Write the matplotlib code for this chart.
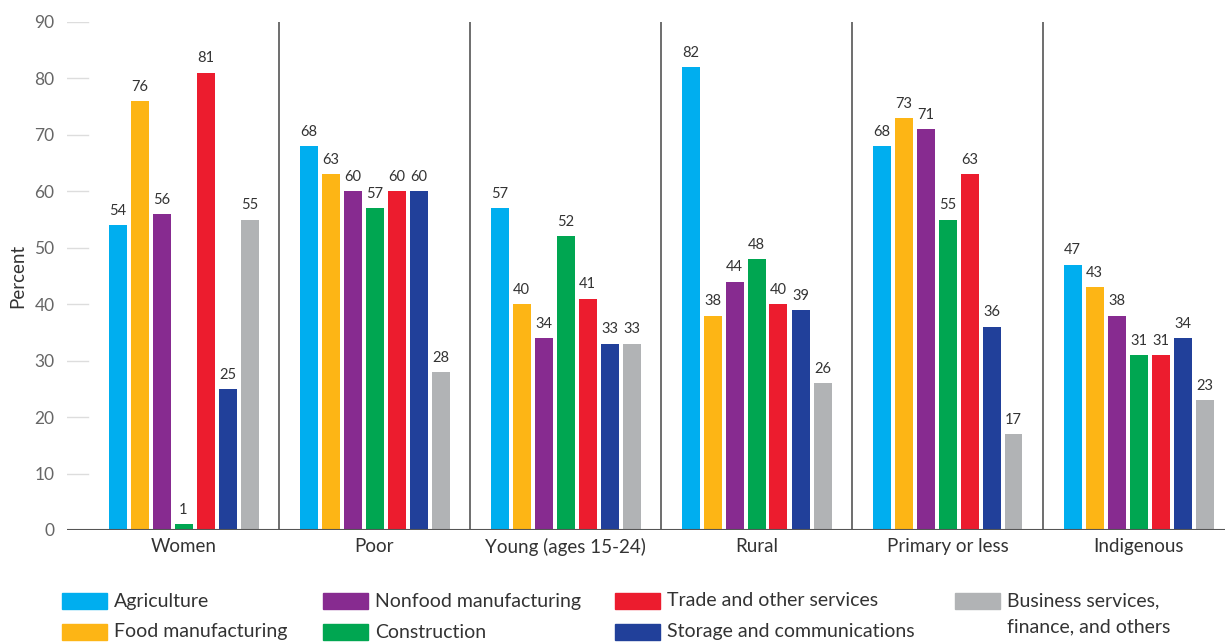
import numpy as np
import matplotlib.pyplot as plt
from matplotlib.patches import Rectangle

plt.rcParams['font.family'] = ['Lato', 'DejaVu Sans']

groups = ["Women", "Poor", "Young (ages 15-24)", "Rural", "Primary or less", "Indigenous"]
series = ["Agriculture", "Food manufacturing", "Nonfood manufacturing", "Construction",
          "Trade and other services", "Storage and communications",
          "Business services,\nfinance, and others"]
agriculture = [54, 68, 57, 82, 68, 47]
food_manuf = [76, 63, 40, 38, 73, 43]
nonfood_manuf = [56, 60, 34, 44, 71, 38]
construction = [1, 57, 52, 48, 55, 31]
trade = [81, 60, 41, 40, 63, 31]
storage = [25, 60, 33, 39, 36, 34]
business = [55, 28, 33, 26, 17, 23]
values = [agriculture, food_manuf, nonfood_manuf, construction, trade, storage, business]
colors = ["#00AEEF", "#FDB515", "#872B90", "#00A651", "#EC1C2E", "#21409A", "#B1B3B5"]
yticks = [0, 10, 20, 30, 40, 50, 60, 70, 80, 90]

fig = plt.figure(figsize=(12.25, 6.44), dpi=100)
ax = fig.add_axes([67 / 1225, 114 / 644, 1 - 67 / 1225, 508 / 644])

x = np.arange(len(groups))
step = 22 / 191
width = 18 / 191
for i, (vals, c) in enumerate(zip(values, colors)):
    pos = x + (i - 3) * step
    ax.bar(pos, vals, width=width, color=c, zorder=3)
    for p, v in zip(pos, vals):
        ax.text(p, v + 1.3, str(v), ha='center', va='bottom', fontsize=10.5, color='#333333')

# group separators
for sep in x[:-1] + 0.5:
    ax.plot([sep, sep], [0, 90], color='#555555', lw=1.2, zorder=2)

left = -0.5 - 21 / 191
ax.set_xlim(left, 5 + (1225 - 1138.5) / 191)
ax.set_ylim(0, 90)

# short grid stubs at left
for t in yticks[1:]:
    ax.plot([left, -0.5], [t, t], color='#dddddd', lw=1, zorder=1)
ax.axhline(0, color='#555555', lw=1.5, zorder=4)

for s in ax.spines.values():
    s.set_visible(False)
ax.set_yticks(yticks)
ax.tick_params(axis='y', length=0, labelsize=12.5, labelcolor='#666666', pad=9)
ax.set_xticks(x)
ax.set_xticklabels(groups, fontsize=13.5, color='#333333')
ax.tick_params(axis='x', length=0, pad=6)
ax.set_ylabel("Percent", fontsize=13.5, color='#333333', labelpad=6)

# legend
col_x = [62, 323, 615, 955]
row_y = [601, 632]
for i, (name, c) in enumerate(zip(series, colors)):
    cx = col_x[i // 2]
    cy = row_y[i % 2]
    fig.patches.append(Rectangle((cx / 1225, (644 - cy - 8) / 644), 45 / 1225, 16 / 644,
                                 color=c, transform=fig.transFigure, figure=fig))
    if '\n' in name:
        fig.text((cx + 52) / 1225, (644 - cy + 9) / 644, name, fontsize=14, color='#333333',
                 va='top', linespacing=1.65)
    else:
        fig.text((cx + 52) / 1225, (644 - cy) / 644, name, fontsize=14, color='#333333',
                 va='center')

fig.savefig("out.png", dpi=100)
